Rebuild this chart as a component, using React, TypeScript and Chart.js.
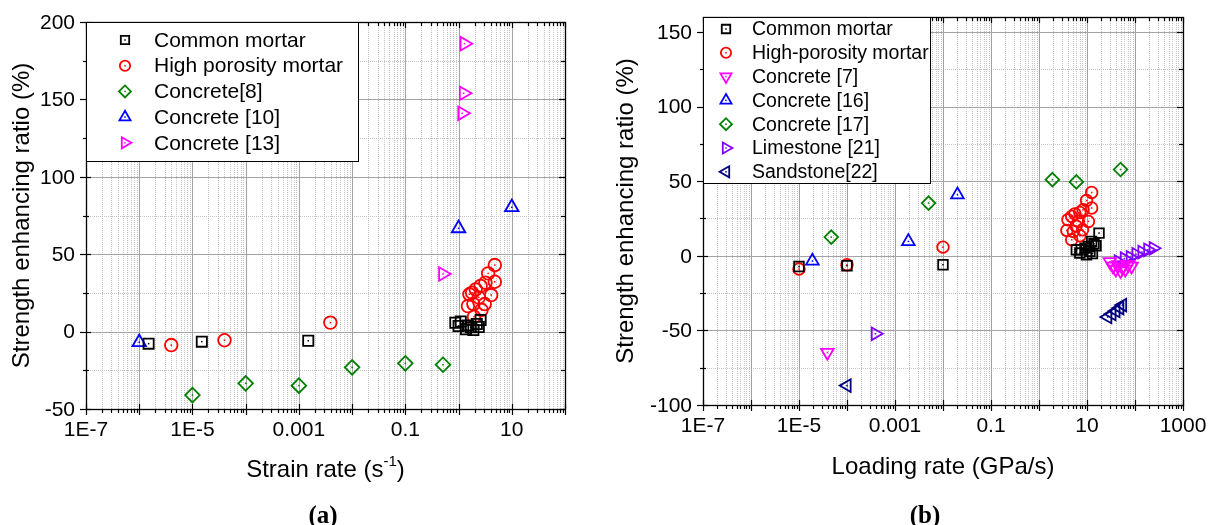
import React, { useEffect, useRef } from 'react';
import { Chart, registerables } from 'chart.js';

Chart.register(...registerables);

const SANS = '"Liberation Sans", Arial, Helvetica, sans-serif';
const SERIF = '"Liberation Serif", "Times New Roman", serif';

// ---------------- Panel (a): strain rate (1/s) vs strength enhancing ratio (%)
const aCommonX = [1.5e-6, 1.5e-5, 1.5e-3, 0.87, 1.0, 1.1, 1.38, 1.5, 1.7, 1.9, 2.2, 2.4, 2.6];
const aCommonY = [-7.8, -6.5, -5.9, 5.7, 3.6, 6.5, 1.5, 4.0, 2.8, 1.0, 4.9, 3.0, 7.5];
const aPorousX = [4e-6, 4e-5, 3.9e-3, 4.8, 3.6, 4.8, 3.2, 2.6, 2.1, 1.8, 1.6, 4.1, 2.4, 1.9, 3.1, 1.5, 2.7, 1.95];
const aPorousY = [-8.7, -5.6, 5.8, 43, 37.6, 32.2, 31.6, 29.5, 27.3, 25.1, 24.1, 23.6, 22.1, 17.8, 17.8, 16.5, 14, 9.6];
const aC8X = [1e-5, 1e-4, 1e-3, 0.01, 0.1, 0.51];
const aC8Y = [-41, -33.4, -34.9, -23.1, -20.5, -21.4];
const aC10X = [1e-6, 1, 10];
const aC10Y = [-6.9, 66.7, 80.3];
const aC13X = [0.51, 1.17, 1.25, 1.29];
const aC13Y = [37.2, 141, 154, 186];

const aXTickVals = [1e-7, 1e-5, 1e-3, 0.1, 10];
const aXTickLabels = ['1E-7', '1E-5', '0.001', '0.1', '10'];
const aYTicks = [-50, 0, 50, 100, 150, 200];
const aYMinor = [-25, 25, 75, 125, 175];

// ---------------- Panel (b): loading rate (GPa/s) vs strength enhancing ratio (%)
const bCommonX = [1e-5, 1e-4, 1e-2, 6.0, 7.1, 7.6, 9.1, 9.8, 10.7, 11.5, 12.5, 13, 14, 15.4, 17.8];
const bCommonY = [-7.2, -6.7, -6.0, 4.0, 1.8, 4.0, 5.1, 0.7, 6.2, 3.0, 9.6, 1.5, 8.0, 6.7, 15.2];
const bPorousX = [1e-5, 1e-4, 1e-2, 12.5, 9.8, 12.5, 8.3, 7.1, 5.6, 4.8, 4.0, 10.7, 6.6, 8.1, 3.8, 5.2, 4.8, 7.1, 5.9];
const bPorousY = [-8.9, -6.0, 5.8, 42.4, 37, 32, 30.8, 29, 28.1, 26.3, 24.1, 23, 23, 17.4, 17, 16.3, 10.7, 13.4, 20];
const bC7X = [3.9e-5, 30, 35, 40, 45, 50, 55, 63, 72, 85];
const bC7Y = [-64.8, -4, -7, -9, -6, -10, -8, -9, -6, -7];
const bC16X = [1.9e-5, 1.9e-3, 0.02];
const bC16Y = [-3.5, 9.6, 40.9];
const bC17X = [4.7e-5, 5e-3, 1.9, 6.0, 50];
const bC17Y = [12.5, 35.3, 51, 49.5, 57.8];
const bLimeX = [3.9e-4, 45, 60, 80, 105, 140, 185, 240];
const bLimeY = [-52.3, -4, -2, -1, 1, 2.5, 4, 5];
const bSandX = [1e-4, 27, 33, 40, 48, 55];
const bSandY = [-87, -41, -39, -37, -35, -33];

const bXTickVals = [1e-7, 1e-5, 1e-3, 0.1, 10, 1000];
const bXTickLabels = ['1E-7', '1E-5', '0.001', '0.1', '10', '1000'];
const bYTicks = [-100, -50, 0, 50, 100, 150];
const bYMinor = [-75, -25, 25, 75, 125];

const BLACK = '#000000';
const RED = '#ff0000';
const GREEN = '#008000';
const BLUE = '#0000ff';
const MAGENTA = '#ff00ff';
const VIOLET = '#8000ff';
const NAVY = '#000080';

type Series = { label: string; xs: number[]; ys: number[]; color: string; style: string; rot: number; r: number };

const seriesA: Series[] = [
  { label: 'Common mortar', xs: aCommonX, ys: aCommonY, color: BLACK, style: 'rect', rot: 0, r: 7.2 },
  { label: 'High porosity mortar', xs: aPorousX, ys: aPorousY, color: RED, style: 'circle', rot: 0, r: 6.3 },
  { label: 'Concrete[8]', xs: aC8X, ys: aC8Y, color: GREEN, style: 'rectRot', rot: 0, r: 7.3 },
  { label: 'Concrete [10]', xs: aC10X, ys: aC10Y, color: BLUE, style: 'triangle', rot: 0, r: 7.8 },
  { label: 'Concrete [13]', xs: aC13X, ys: aC13Y, color: MAGENTA, style: 'triangle', rot: 90, r: 7.8 },
];

const seriesB: Series[] = [
  { label: 'Common mortar', xs: bCommonX, ys: bCommonY, color: BLACK, style: 'rect', rot: 0, r: 6.8 },
  { label: 'High-porosity mortar', xs: bPorousX, ys: bPorousY, color: RED, style: 'circle', rot: 0, r: 5.8 },
  { label: 'Concrete [7]', xs: bC7X, ys: bC7Y, color: MAGENTA, style: 'triangle', rot: 180, r: 7.3 },
  { label: 'Concrete [16]', xs: bC16X, ys: bC16Y, color: BLUE, style: 'triangle', rot: 0, r: 7.3 },
  { label: 'Concrete [17]', xs: bC17X, ys: bC17Y, color: GREEN, style: 'rectRot', rot: 0, r: 6.8 },
  { label: 'Limestone [21]', xs: bLimeX, ys: bLimeY, color: VIOLET, style: 'triangle', rot: 90, r: 7.3 },
  { label: 'Sandstone[22]', xs: bSandX, ys: bSandY, color: NAVY, style: 'triangle', rot: -90, r: 7.3 },
];

type PanelCfg = {
  canvasLeft: number;
  width: number;
  height: number;
  area: { left: number; right: number; top: number; bottom: number };
  xMin: number;
  xMax: number;
  yMin: number;
  yMax: number;
  xTickVals: number[];
  xTickLabels: string[];
  yTicks: number[];
  yMinor: number[];
  xTitle: string;
  xTitleSup: string;
  xTitleEnd: string;
  xTitleY: number;
  yTitleX: number;
  tickFont: number;
  titleFont: number;
  legend: { left: number; top: number; right: number; bottom: number; symX: number; textX: number; row0: number; rowStep: number; font: number; symScale: number };
  series: Series[];
};

const panelA: PanelCfg = {
  canvasLeft: 0,
  width: 600,
  height: 525,
  area: { left: 86, right: 565, top: 22, bottom: 409 },
  xMin: 1e-7,
  xMax: 100,
  yMin: -50,
  yMax: 200,
  xTickVals: aXTickVals,
  xTickLabels: aXTickLabels,
  yTicks: aYTicks,
  yMinor: aYMinor,
  xTitle: 'Strain rate (s',
  xTitleSup: '-1',
  xTitleEnd: ')',
  xTitleY: 470,
  yTitleX: 22,
  tickFont: 21,
  titleFont: 24,
  legend: { left: 86, top: 22, right: 358, bottom: 161, symX: 125, textX: 154, row0: 40, rowStep: 25.7, font: 21, symScale: 0.82 },
  series: seriesA,
};

const panelB: PanelCfg = {
  canvasLeft: 600,
  width: 609,
  height: 525,
  area: { left: 103, right: 583, top: 17, bottom: 405 },
  xMin: 1e-7,
  xMax: 1000,
  yMin: -100,
  yMax: 160,
  xTickVals: bXTickVals,
  xTickLabels: bXTickLabels,
  yTicks: bYTicks,
  yMinor: bYMinor,
  xTitle: 'Loading rate (GPa/s)',
  xTitleSup: '',
  xTitleEnd: '',
  xTitleY: 467,
  yTitleX: 26,
  tickFont: 21,
  titleFont: 24,
  legend: { left: 103, top: 17, right: 330, bottom: 183, symX: 126, textX: 152, row0: 29, rowStep: 23.8, font: 19.5, symScale: 0.88 },
  series: seriesB,
};

const MARK_LW = 1.8;

function drawMarker(ctx: CanvasRenderingContext2D, style: string, rot: number, x: number, y: number, r: number, color: string) {
  ctx.save();
  ctx.strokeStyle = color;
  ctx.lineWidth = MARK_LW;
  ctx.beginPath();
  if (style === 'circle') {
    ctx.arc(x, y, r, 0, Math.PI * 2);
  } else if (style === 'rect') {
    const s = r * Math.SQRT1_2;
    ctx.rect(x - s, y - s, 2 * s, 2 * s);
  } else if (style === 'rectRot') {
    ctx.moveTo(x - r, y);
    ctx.lineTo(x, y - r);
    ctx.lineTo(x + r, y);
    ctx.lineTo(x, y + r);
    ctx.closePath();
  } else {
    let a = (rot * Math.PI) / 180;
    for (let k = 0; k < 3; k++) {
      const px = x + Math.sin(a) * r;
      const py = y - Math.cos(a) * r;
      if (k === 0) ctx.moveTo(px, py);
      else ctx.lineTo(px, py);
      a += (2 * Math.PI) / 3;
    }
    ctx.closePath();
  }
  ctx.stroke();
  ctx.fillStyle = color;
  ctx.fillRect(x - 0.75, y - 0.75, 1.5, 1.5);
  ctx.restore();
}

function hLine(ctx: CanvasRenderingContext2D, x1: number, x2: number, y: number) {
  const yy = Math.round(y) + 0.5;
  ctx.beginPath();
  ctx.moveTo(x1, yy);
  ctx.lineTo(x2, yy);
  ctx.stroke();
}
function vLine(ctx: CanvasRenderingContext2D, x: number, y1: number, y2: number) {
  const xx = Math.round(x) + 0.5;
  ctx.beginPath();
  ctx.moveTo(xx, y1);
  ctx.lineTo(xx, y2);
  ctx.stroke();
}

function makeDecor(cfg: PanelCfg) {
  const decMin = Math.round(Math.log10(cfg.xMin));
  const decMax = Math.round(Math.log10(cfg.xMax));
  return {
    id: 'decor',
    beforeDatasetsDraw(chart: any) {
      const { ctx, chartArea: a } = chart;
      const xs = chart.scales.x;
      const ys = chart.scales.y;
      ctx.save();
      ctx.fillStyle = '#ffffff';
      ctx.fillRect(a.left, a.top, a.right - a.left, a.bottom - a.top);
      ctx.lineWidth = 1;
      ctx.strokeStyle = '#c4c4c4';
      ctx.setLineDash([1, 1]);
      for (let d = decMin; d < decMax; d++) {
        for (let m = 2; m <= 9; m++) vLine(ctx, xs.getPixelForValue(m * Math.pow(10, d)), a.top, a.bottom);
      }
      for (const v of cfg.yMinor) hLine(ctx, a.left, a.right, ys.getPixelForValue(v));
      ctx.setLineDash([]);
      ctx.strokeStyle = '#a3a3a3';
      for (let d = decMin + 1; d < decMax; d++) vLine(ctx, xs.getPixelForValue(Math.pow(10, d)), a.top, a.bottom);
      for (const v of cfg.yTicks) if (v > cfg.yMin && v < cfg.yMax) hLine(ctx, a.left, a.right, ys.getPixelForValue(v));
      ctx.restore();
    },
    afterDatasetsDraw(chart: any) {
      const { ctx, chartArea: a } = chart;
      const xs = chart.scales.x;
      const ys = chart.scales.y;
      ctx.save();
      // centre dots of the hollow markers
      chart.data.datasets.forEach((ds: any, i: number) => {
        const meta = chart.getDatasetMeta(i);
        ctx.fillStyle = ds.borderColor;
        meta.data.forEach((pt: any) => ctx.fillRect(pt.x - 0.75, pt.y - 0.75, 1.5, 1.5));
      });
      // frame
      ctx.strokeStyle = '#000';
      ctx.lineWidth = 1.3;
      ctx.strokeRect(Math.round(a.left) + 0.5, Math.round(a.top) + 0.5, Math.round(a.right - a.left), Math.round(a.bottom - a.top));
      ctx.lineWidth = 1.2;
      // x ticks
      for (let d = decMin; d <= decMax; d++) {
        const px = xs.getPixelForValue(Math.pow(10, d));
        vLine(ctx, px, a.bottom - 5, a.bottom + 6);
        vLine(ctx, px, a.top, a.top + 6);
        if (d < decMax) {
          for (let m = 2; m <= 9; m++) {
            const mx = xs.getPixelForValue(m * Math.pow(10, d));
            vLine(ctx, mx, a.bottom, a.bottom + 4);
            vLine(ctx, mx, a.top, a.top + 4);
          }
        }
      }
      // y ticks
      for (const v of cfg.yTicks) {
        const py = ys.getPixelForValue(v);
        hLine(ctx, a.left - 6, a.left + 5, py);
        hLine(ctx, a.right - 6, a.right, py);
      }
      for (const v of cfg.yMinor) {
        const py = ys.getPixelForValue(v);
        hLine(ctx, a.left - 3, a.left + 3, py);
        hLine(ctx, a.right - 4, a.right, py);
      }
      // tick labels
      ctx.fillStyle = '#000';
      ctx.font = `${cfg.tickFont}px ${SANS}`;
      ctx.textBaseline = 'middle';
      ctx.textAlign = 'center';
      cfg.xTickVals.forEach((v, i) => ctx.fillText(cfg.xTickLabels[i], xs.getPixelForValue(v), a.bottom + 21));
      ctx.textAlign = 'right';
      cfg.yTicks.forEach((v) => ctx.fillText(String(v), a.left - 11, ys.getPixelForValue(v) + 1));
      // x title (with optional superscript)
      const cx = (a.left + a.right) / 2;
      ctx.font = `${cfg.titleFont}px ${SANS}`;
      const w1 = ctx.measureText(cfg.xTitle).width;
      const w3 = ctx.measureText(cfg.xTitleEnd).width;
      const supSize = Math.round(cfg.titleFont * 0.62);
      ctx.font = `${supSize}px ${SANS}`;
      const w2 = cfg.xTitleSup ? ctx.measureText(cfg.xTitleSup).width : 0;
      let sx = cx - (w1 + w2 + w3) / 2;
      ctx.textAlign = 'left';
      ctx.font = `${cfg.titleFont}px ${SANS}`;
      ctx.fillText(cfg.xTitle, sx, cfg.xTitleY);
      sx += w1;
      if (cfg.xTitleSup) {
        ctx.font = `${supSize}px ${SANS}`;
        ctx.fillText(cfg.xTitleSup, sx, cfg.xTitleY - cfg.titleFont * 0.33);
        sx += w2;
        ctx.font = `${cfg.titleFont}px ${SANS}`;
        ctx.fillText(cfg.xTitleEnd, sx, cfg.xTitleY);
      }
      // y title
      ctx.save();
      ctx.translate(cfg.yTitleX, (a.top + a.bottom) / 2);
      ctx.rotate(-Math.PI / 2);
      ctx.textAlign = 'center';
      ctx.fillText('Strength enhancing ratio (%)', 0, 0);
      ctx.restore();
      // legend
      const L = cfg.legend;
      ctx.fillStyle = '#fff';
      ctx.fillRect(L.left, L.top, L.right - L.left, L.bottom - L.top);
      ctx.strokeStyle = '#000';
      ctx.lineWidth = 1;
      ctx.strokeRect(L.left + 0.5, L.top + 0.5, L.right - L.left, L.bottom - L.top);
      ctx.font = `${L.font}px ${SANS}`;
      ctx.textAlign = 'left';
      ctx.textBaseline = 'middle';
      cfg.series.forEach((s, i) => {
        const ry = L.row0 + i * L.rowStep;
        drawMarker(ctx, s.style, s.rot, L.symX, ry, s.r * L.symScale, s.color);
        ctx.fillStyle = '#000';
        ctx.fillText(s.label, L.textX, ry + 1);
      });
      ctx.restore();
    },
  };
}

function Panel({ cfg }: { cfg: PanelCfg }) {
  const ref = useRef<HTMLCanvasElement | null>(null);
  useEffect(() => {
    if (!ref.current) return;
    const chart = new Chart(ref.current, {
      type: 'scatter',
      data: {
        datasets: cfg.series.map((s) => ({
          label: s.label,
          data: s.xs.map((x, i) => ({ x, y: s.ys[i] })),
          borderColor: s.color,
          backgroundColor: 'rgba(0,0,0,0)',
          pointBorderColor: s.color,
          pointBackgroundColor: 'rgba(0,0,0,0)',
          pointBorderWidth: MARK_LW,
          pointRadius: s.r,
          pointStyle: s.style,
          pointRotation: s.rot,
          showLine: false,
          clip: false,
        })) as any,
      },
      options: {
        responsive: false,
        animation: false,
        events: [],
        layout: {
          padding: {
            left: cfg.area.left,
            right: cfg.width - cfg.area.right,
            top: cfg.area.top,
            bottom: cfg.height - cfg.area.bottom,
          },
        },
        plugins: { legend: { display: false }, tooltip: { enabled: false }, title: { display: false } },
        scales: {
          x: { type: 'logarithmic', min: cfg.xMin, max: cfg.xMax, display: false },
          y: { type: 'linear', min: cfg.yMin, max: cfg.yMax, display: false },
        },
      },
      plugins: [makeDecor(cfg)],
    } as any);
    return () => chart.destroy();
  }, [cfg]);
  return (
    <canvas
      ref={ref}
      width={cfg.width}
      height={cfg.height}
      style={{ position: 'absolute', left: cfg.canvasLeft, top: 0, width: cfg.width, height: cfg.height }}
    />
  );
}

export default function App() {
  const capStyle: React.CSSProperties = {
    position: 'absolute',
    top: 502,
    width: 100,
    textAlign: 'center',
    font: `bold 25px ${SERIF}`,
    lineHeight: '26px',
    color: '#000',
  };
  return (
    <div style={{ position: 'absolute', left: 0, top: 0, width: 1209, height: 525, background: '#fff', overflow: 'hidden' }}>
      <Panel cfg={panelA} />
      <Panel cfg={panelB} />
      <div style={{ ...capStyle, left: 273 }}>(a)</div>
      <div style={{ ...capStyle, left: 875 }}>(b)</div>
    </div>
  );
}
